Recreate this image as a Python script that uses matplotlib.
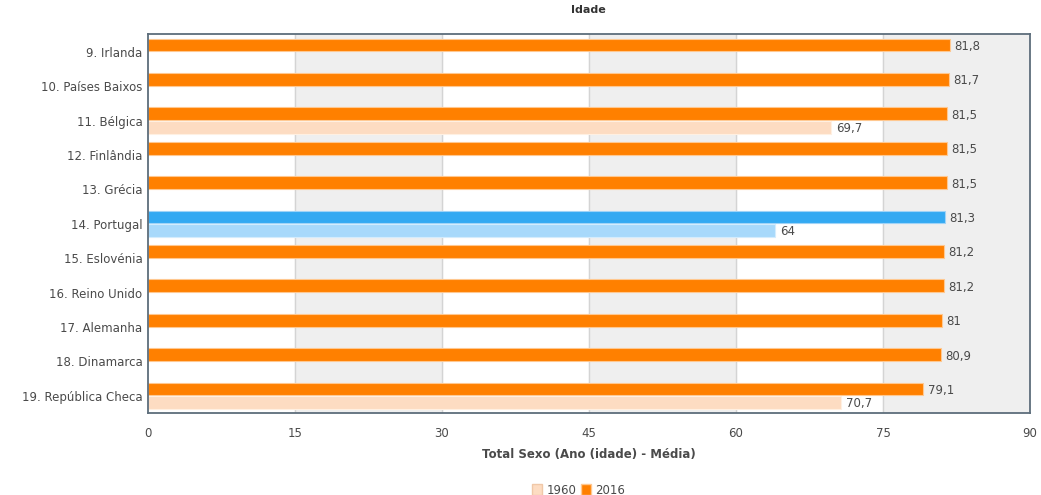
import matplotlib.pyplot as plt
from matplotlib.patches import Patch

# Esperança de vida à nascença, 2016 vs 1960
countries = ["9. Irlanda", "10. Países Baixos", "11. Bélgica", "12. Finlândia",
             "13. Grécia", "14. Portugal", "15. Eslovénia", "16. Reino Unido",
             "17. Alemanha", "18. Dinamarca", "19. República Checa"]
values_2016 = [81.8, 81.7, 81.5, 81.5, 81.5, 81.3, 81.2, 81.2, 81.0, 80.9, 79.1]
values_1960 = [None, None, 69.7, None, None, 64.0, None, None, None, None, 70.7]
highlight = "14. Portugal"
xticks = [0, 15, 30, 45, 60, 75, 90]

ORANGE = "#ff8000"
ORANGE_LIGHT = "#fddcc2"
BLUE = "#33a9f2"
BLUE_LIGHT = "#a8d9fb"
TEXT = "#4a4a4a"


def fmt(v):
    return f"{v:g}".replace(".", ",")


fig = plt.figure(figsize=(10.41, 4.95), dpi=100)
ax = fig.add_axes([148 / 1041, 82 / 495, 882 / 1041, 378.5 / 495])

# alternating background bands + grid lines
for i in range(len(xticks) - 1):
    if i % 2 == 1:
        ax.axvspan(xticks[i], xticks[i + 1], color="#efefef", zorder=0)
for x in xticks[1:-1]:
    ax.axvline(x, color="#d4d4d4", lw=1, zorder=1)

off, h = 0.195, 0.37
for i, name in enumerate(countries):
    dark, light = (BLUE, BLUE_LIGHT) if name == highlight else (ORANGE, ORANGE_LIGHT)
    v = values_2016[i]
    ax.barh(i - off, v, height=h, color=dark, edgecolor="#ffc890" if dark == ORANGE else "#9fd3f7",
            linewidth=0.8, zorder=2)
    ax.text(v + 0.5, i - off + 0.04, fmt(v), va="center", ha="left", fontsize=8.5, color=TEXT, zorder=3)
    old = values_1960[i]
    if old is not None:
        ax.barh(i + off, old, height=h, color=light, edgecolor="#fff0e2" if dark == ORANGE else "#d4ecfd",
                linewidth=0.8, zorder=2)
        ax.text(old + 0.5, i + off + 0.04, fmt(old), va="center", ha="left", fontsize=8.5, color=TEXT,
                zorder=3, bbox=dict(facecolor="white", edgecolor="none", pad=0.5))

ax.set_xlim(0, 90)
ax.set_ylim(len(countries) - 0.5, -0.5)
ax.set_xticks(xticks)
ax.set_xticklabels([str(t) for t in xticks])
ax.set_yticks(range(len(countries)))
ax.set_yticklabels(countries)
ax.tick_params(axis="both", length=0, colors=TEXT, labelsize=8.5)
ax.tick_params(axis="x", pad=10)
ax.tick_params(axis="y", pad=4)
for s in ax.spines.values():
    s.set_color("#5d6d7b")
    s.set_linewidth(1.3)

ax.set_xlabel("Total Sexo (Ano (idade) - Média)", fontsize=8.5, fontweight="bold", color=TEXT, labelpad=6)

fig.text(0.565, 1 - 13 / 495, "Idade", ha="center", va="baseline", fontsize=8, fontweight="bold",
         color="#333333")

handles = [Patch(facecolor=ORANGE_LIGHT, edgecolor="#f0c8a8"), Patch(facecolor=ORANGE, edgecolor="#ffc890")]
fig.legend(handles, ["1960", "2016"], loc="lower center", bbox_to_anchor=(0.556, -0.025), ncol=2,
           frameon=False, fontsize=8.5, handlelength=0.8, handleheight=1.0, handletextpad=0.4,
           columnspacing=0.4, labelcolor=TEXT)

fig.savefig("out.png", dpi=100)
